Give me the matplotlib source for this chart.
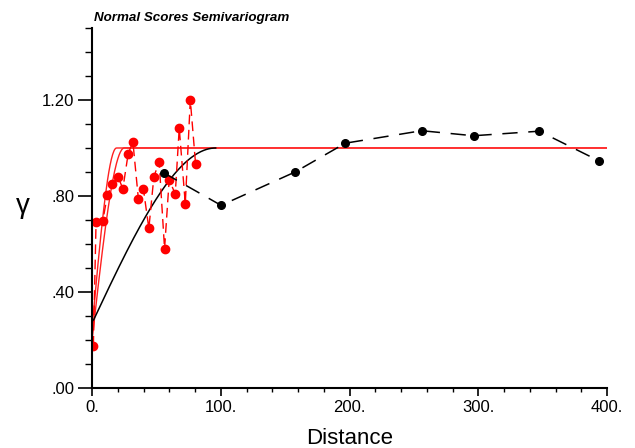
import numpy as np
import matplotlib.pyplot as plt
from matplotlib.ticker import FixedLocator, MultipleLocator, FuncFormatter

plt.rcParams['font.family'] = ['Liberation Sans', 'DejaVu Sans']

# experimental semivariogram, short lags (red)
red_lag = [1.0, 3.1, 8.3, 11.9, 15.8, 20.2, 23.9, 28.0, 31.7, 36.0, 39.9,
           44.1, 48.0, 52.1, 56.3, 59.9, 64.6, 67.7, 72.4, 76.3, 80.4]
red_gam = [0.176, 0.693, 0.696, 0.804, 0.85, 0.88, 0.83, 0.975, 1.026, 0.786, 0.828,
           0.665, 0.88, 0.943, 0.58, 0.868, 0.808, 1.083, 0.768, 1.2, 0.933]

# experimental semivariogram, long lags (black)
blk_lag = [55.5, 100.2, 157.7, 196.7, 256.0, 296.3, 347.3, 393.5]
blk_gam = [0.897, 0.761, 0.90, 1.02, 1.072, 1.051, 1.07, 0.947]

# spherical model fits: (nugget, sill, range)
red_models = [(0.25, 1.0, 19.0), (0.20, 1.0, 25.0)]
blk_model = (0.27, 1.0, 96.0)


def spherical(h, c0, sill, a):
    r = np.minimum(h / a, 1.0)
    return c0 + (sill - c0) * (1.5 * r - 0.5 * r ** 3)


fig = plt.figure(figsize=(6.35, 4.48), dpi=100)
ax = fig.add_axes([0.145, 0.134, 0.811, 0.8035])

h = np.linspace(0, 400, 801)
for c0, sill, a in red_models:
    ax.plot(h, spherical(h, c0, sill, a), color='#ff2020', lw=1.0)
hb = np.linspace(0, blk_model[2], 200)
ax.plot(hb, spherical(hb, *blk_model), color='black', lw=1.1)

ax.plot(red_lag, red_gam, color='red', lw=1.0, dashes=(7, 4),
        marker='o', ms=6, mfc='red', mec='red')
ax.plot(blk_lag, blk_gam, color='black', lw=1.1, dashes=(10, 7),
        marker='o', ms=5.5, mfc='black', mec='black')

ax.set_xlim(0, 400)
ax.set_ylim(0, 1.5)
for s in ['top', 'right']:
    ax.spines[s].set_visible(False)
for s in ['left', 'bottom']:
    ax.spines[s].set_linewidth(1.5)

ax.xaxis.set_major_locator(MultipleLocator(100))
ax.xaxis.set_minor_locator(MultipleLocator(20))
ax.yaxis.set_major_locator(FixedLocator([0, 0.4, 0.8, 1.2]))
ax.yaxis.set_minor_locator(MultipleLocator(0.1))
ax.xaxis.set_major_formatter(FuncFormatter(lambda v, p: f"{v:.0f}."))
ax.yaxis.set_major_formatter(FuncFormatter(lambda v, p: f"{v:.2f}".lstrip('0') if v < 1 else f"{v:.2f}"))
ax.tick_params(axis='x', which='major', length=6, width=1.2, labelsize=12, pad=3)
ax.tick_params(axis='x', which='minor', length=3, width=1.0)
ax.tick_params(axis='y', which='major', length=10, width=1.2, labelsize=12, pad=3)
ax.tick_params(axis='y', which='minor', length=5, width=1.0)

ax.set_xlabel("Distance", fontsize=16, labelpad=9)
ax.text(-0.135, 0.505, "γ", transform=ax.transAxes, fontsize=20,
        ha='center', va='center')

fig.text(0.148, 0.96, "Normal Scores Semivariogram", fontsize=9.6,
         fontweight='bold', fontstyle='italic', va='center', ha='left')

fig.savefig("out.png", dpi=100)
